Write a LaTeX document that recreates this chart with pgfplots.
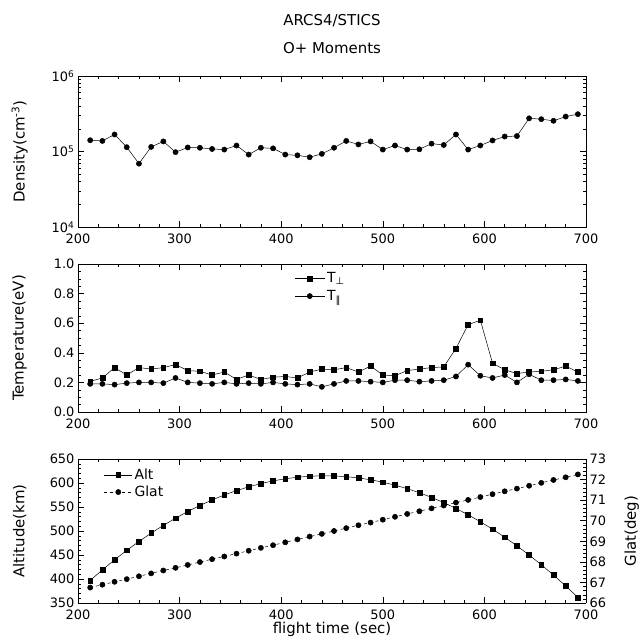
\documentclass[border=0pt]{standalone}
\usepackage{pgfplots}
\usepackage{pgfplotstable}
\pgfplotsset{compat=1.18}
\usepackage{fontspec}
\setmainfont{DejaVu Sans}

\pgfplotstableread{
t   dens    tperp  tpar   alt    glat
212 1.41e5  0.207  0.190  397.0  66.75
224 1.38e5  0.230  0.190  419.1  66.89
236 1.68e5  0.300  0.185  440.0  67.03
248 1.14e5  0.250  0.195  459.7  67.16
260 6.9e4   0.300  0.200  478.2  67.30
272 1.15e5  0.290  0.200  495.6  67.44
284 1.36e5  0.300  0.195  511.7  67.58
296 9.8e4   0.320  0.230  526.7  67.71
308 1.13e5  0.280  0.200  540.6  67.85
320 1.12e5  0.275  0.195  553.2  67.99
332 1.08e5  0.250  0.190  564.7  68.13
344 1.06e5  0.270  0.200  575.0  68.26
356 1.20e5  0.220  0.190  584.1  68.40
368 9.1e4   0.250  0.195  592.0  68.54
380 1.12e5  0.220  0.190  598.8  68.68
392 1.10e5  0.235  0.200  604.4  68.81
404 9.1e4   0.240  0.190  608.8  68.95
416 8.9e4   0.230  0.185  612.0  69.09
428 8.4e4   0.270  0.190  614.1  69.23
440 9.3e4   0.290  0.170  615.0  69.36
452 1.12e5  0.285  0.190  614.7  69.50
464 1.38e5  0.300  0.210  613.2  69.64
476 1.24e5  0.270  0.210  610.6  69.78
488 1.36e5  0.310  0.205  606.7  69.91
500 1.06e5  0.250  0.200  601.7  70.05
512 1.20e5  0.245  0.215  595.6  70.19
524 1.06e5  0.280  0.215  588.2  70.33
536 1.07e5  0.290  0.205  579.7  70.46
548 1.27e5  0.300  0.210  570.0  70.60
560 1.22e5  0.305  0.215  559.1  70.74
572 1.68e5  0.430  0.240  547.0  70.88
584 1.06e5  0.590  0.320  533.8  71.01
596 1.20e5  0.620  0.245  519.4  71.15
608 1.40e5  0.330  0.230  503.8  71.29
620 1.58e5  0.285  0.250  487.0  71.43
632 1.60e5  0.260  0.200  469.1  71.56
644 2.75e5  0.270  0.255  450.0  71.70
656 2.68e5  0.275  0.215  429.7  71.84
668 2.55e5  0.285  0.215  408.2  71.98
680 2.90e5  0.310  0.220  385.5  72.11
692 3.12e5  0.270  0.210  361.7  72.25
}\data

\pgfplotsset{
  panel/.style={
    scale only axis, width=508bp, anchor=south west,
    xmin=200, xmax=700, xtick={200,300,...,700},
    minor x tick num=4,
    tick align=inside,
    major tick length=6bp, minor tick length=3bp,
    every tick/.style={black, line width=0.5bp},
    axis line style={line width=0.7bp},
    tick label style={font=\fontsize{13}{15}\selectfont},
    xticklabel style={yshift=-3.5bp},
    label style={font=\fontsize{15}{18}\selectfont},
    /pgf/number format/assume math mode=true,
    ylabel style={at={(axis description cs:-0.115,0.5)}, anchor=center, rotate=0},
  },
  ser/.style={black, line width=0.5bp, mark options={solid, fill=black}},
}

\begin{document}
\begin{tikzpicture}
\useasboundingbox (0bp,0bp) rectangle (642bp,644bp);

\node[font=\fontsize{15}{18}\selectfont] at (332bp,623bp) {ARCS4/STICS};
\node[font=\fontsize{15}{18}\selectfont] at (332bp,596bp) {O+ Moments};

% ---- Density ----
\begin{axis}[panel, at={(78bp,417bp)}, height=151bp,
  ymode=log, ymin=1e4, ymax=1e6, ytick={1e4,1e5,1e6},
  yticklabels={10\textsuperscript{4},10\textsuperscript{5},10\textsuperscript{6}},
  ylabel={Density(cm\textsuperscript{-3})}]
\addplot[ser, mark=*, mark size=2.6bp] table[x=t, y=dens] {\data};
\end{axis}

% ---- Temperature ----
\begin{axis}[panel, at={(78bp,232bp)}, height=148bp,
  ymin=0, ymax=1, ytick={0,0.2,...,1.0}, minor y tick num=3,
  yticklabel style={/pgf/number format/.cd, fixed, fixed zerofill, precision=1},
  ylabel={Temperature(eV)},
  legend style={draw=none, fill=none, at={(0.42,0.97)}, anchor=north west,
    font=\fontsize{14}{16}\selectfont, row sep=2bp},
  legend image code/.code={\draw[#1, mark repeat=2, mark phase=2] plot coordinates {(0bp,0bp) (15bp,0bp) (30bp,0bp)};},
  legend cell align=left]
\addplot[ser, mark=square*, mark size=2.4bp] table[x=t, y=tperp] {\data};
\addlegendentry{T\textsubscript{⊥}}
\addplot[ser, mark=*, mark size=2.6bp] table[x=t, y=tpar] {\data};
\addlegendentry{T\textsubscript{∥}}
\end{axis}

% ---- Altitude / Glat ----
\begin{axis}[panel, at={(78bp,41bp)}, height=144bp,
  ymin=350, ymax=650, ytick={350,400,...,650}, minor y tick num=4,
  axis y line*=left,
  ylabel={Altitude(km)}, xlabel={flight time (sec)},
  xlabel style={yshift=5bp}]
\addplot[ser, mark=square*, mark size=2.4bp] table[x=t, y=alt] {\data};
\end{axis}
\begin{axis}[panel, at={(78bp,41bp)}, height=144bp,
  ymin=66, ymax=73, ytick={66,67,...,73}, minor y tick num=4,
  axis x line=none, axis y line*=right,
  ylabel={Glat(deg)},
  ylabel style={at={(axis description cs:1.09,0.5)}, anchor=center, rotate=0},
  legend style={draw=none, fill=none, at={(0.045,0.96)}, anchor=north west,
    font=\fontsize{14}{16}\selectfont, row sep=1bp},
  legend image code/.code={\draw[#1, mark repeat=2, mark phase=2] plot coordinates {(0bp,0bp) (14bp,0bp) (28bp,0bp)};},
  legend cell align=left]
\addlegendimage{ser, mark=square*, mark size=2.4bp}
\addlegendentry{Alt}
\addplot[ser, dashed, mark=*, mark size=2.6bp] table[x=t, y=glat] {\data};
\addlegendentry{Glat}
\end{axis}
\end{tikzpicture}
\end{document}
